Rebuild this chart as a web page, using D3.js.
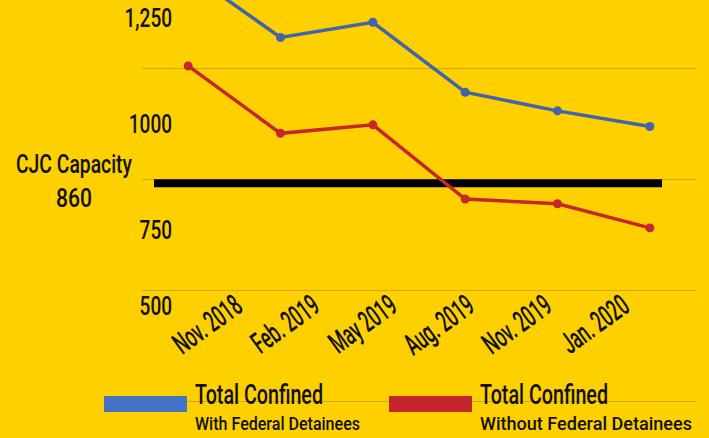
<!DOCTYPE html>
<html>
<head>
<meta charset="utf-8">
<script src="https://cdn.jsdelivr.net/npm/d3@7"></script>
<style>
    body { margin: 0; background: #FFD000; }
    svg { display: block; }
    text { font-family: "Roboto", "DejaVu Sans", sans-serif; font-weight: 500; fill: #111; }
</style>
</head>
<body>
<svg id="vis-svg"></svg>
<script>
// data
const months = ["Nov. 2018", "Feb. 2019", "May 2019", "Aug. 2019", "Nov. 2019", "Jan. 2020"];
const withFederal = [1358, 1204, 1240, 1075, 1031, 994];
const withoutFederal = [1137, 978, 998, 823, 812, 755];
const yTickValues = [1250, 1000, 750, 500];
const capacity = 860;
const gridSteps = [0, 1, 2, 3];

const width = 709, height = 438;
const blue = "#4164AA", red = "#C4282C";

// squeeze text horizontally, the original uses a tall condensed face
const condense = (sel, ratio) => sel.each(function() {
    let len = this.getComputedTextLength();
    d3.select(this)
        .attr("textLength", len * ratio)
        .attr("lengthAdjust", "spacingAndGlyphs");
});

let svg = d3.select("#vis-svg")
    .attr("width", width)
    .attr("height", height);

svg.append("rect")
    .attr("width", width)
    .attr("height", height)
    .attr("fill", "#FFD000");

// band per month, points sit in the middle of each band
let xScale = d3.scaleBand()
    .domain(months)
    .range([142, 696]);
const xMid = m => xScale(m) + xScale.bandwidth() / 2;

let yScale = d3.scaleLinear()
    .domain([500, 1250])
    .range([336, 18]);

// decorative gridlines, evenly spaced
let gridScale = d3.scaleLinear()
    .domain([0, 3])
    .range([68, 401]);

svg.append("g")
    .attr("class", "grid")
    .selectAll("line")
    .data(gridSteps)
    .enter()
        .append("line")
        .attr("x1", 142)
        .attr("x2", 696)
        .attr("y1", d => gridScale(d) + 0.5)
        .attr("y2", d => gridScale(d) + 0.5)
        .attr("stroke", "#CDA916")
        .attr("stroke-width", 1);

// y labels (500 gets pushed up above the month labels)
svg.append("g")
    .attr("class", "yLabels")
    .selectAll("text")
    .data(yTickValues)
    .enter()
        .append("text")
        .attr("x", 172)
        .attr("y", d => Math.min(yScale(d) + 9, 315))
        .attr("text-anchor", "end")
        .style("font-size", "25px")
        .text(d => d >= 1250 ? d3.format(",")(d) : d)
        .call(condense, 0.76);

// month labels, rotated
let labelScale = d3.scalePoint()
    .domain(months)
    .range([244, 631]);

let xAxis = d3.axisBottom(labelScale).tickSize(0);

svg.append("g")
    .attr("class", "xAxis")
    .attr("transform", `translate(0, 310)`)
    .call(xAxis)
    .call(g => g.select(".domain").remove())
    .selectAll("text")
        .attr("y", 0)
        .attr("dy", 0)
        .attr("text-anchor", "end")
        .attr("transform", "rotate(-36)")
        .style("font-size", "30px")
        .style("font-family", "Roboto, \"DejaVu Sans\", sans-serif")
        .style("font-weight", 500)
        .attr("fill", "#111")
        .call(condense, 0.57);

// capacity line
svg.append("line")
    .attr("x1", xScale(months[0]) + 12)
    .attr("x2", xScale(months[months.length - 1]) + xScale.bandwidth() - 34)
    .attr("y1", yScale(capacity))
    .attr("y2", yScale(capacity))
    .attr("stroke", "#000")
    .attr("stroke-width", 8);

svg.append("text")
    .attr("x", 74)
    .attr("y", 173)
    .attr("text-anchor", "middle")
    .attr("textLength", 116)
    .attr("lengthAdjust", "spacingAndGlyphs")
    .style("font-size", "25px")
    .text("CJC Capacity");

svg.append("text")
    .attr("x", 74)
    .attr("y", 207)
    .attr("text-anchor", "middle")
    .attr("textLength", 36)
    .attr("lengthAdjust", "spacingAndGlyphs")
    .style("font-size", "25px")
    .text(capacity);

// the two series
const series = [
    { values: withFederal, color: blue },
    { values: withoutFederal, color: red }
];

let line = d3.line()
    .x((d, i) => xMid(months[i]))
    .y(d => yScale(d));

series.forEach(s => {
    svg.append("path")
        .datum(s.values)
        .attr("fill", "none")
        .attr("stroke", s.color)
        .attr("stroke-width", 3.5)
        .attr("d", line);

    svg.append("g")
        .selectAll("circle")
        .data(s.values)
        .enter()
            .append("circle")
            .attr("cx", (d, i) => xMid(months[i]))
            .attr("cy", d => yScale(d))
            .attr("r", 4.5)
            .attr("fill", s.color);
});

// legend
const legend = [
    { x: 104, color: "#4472C4", title: "Total Confined", sub: "With Federal Detainees", subLen: 165 },
    { x: 389, color: "#C4262E", title: "Total Confined", sub: "Without Federal Detainees", subLen: 212 }
];

let lg = svg.selectAll("g.legend")
    .data(legend)
    .enter()
        .append("g")
        .attr("class", "legend")
        .attr("transform", d => `translate(${d.x}, 0)`);

lg.append("rect")
    .attr("x", 0)
    .attr("y", 396)
    .attr("width", 83)
    .attr("height", 16)
    .attr("fill", d => d.color);

lg.append("text")
    .attr("x", 91)
    .attr("y", 404)
    .attr("textLength", 128)
    .attr("lengthAdjust", "spacingAndGlyphs")
    .style("font-size", "27px")
    .text(d => d.title);

lg.append("text")
    .attr("x", 91)
    .attr("y", 430)
    .attr("textLength", d => d.subLen)
    .attr("lengthAdjust", "spacingAndGlyphs")
    .style("font-size", "18.5px")
    .text(d => d.sub);
</script>
</body>
</html>
